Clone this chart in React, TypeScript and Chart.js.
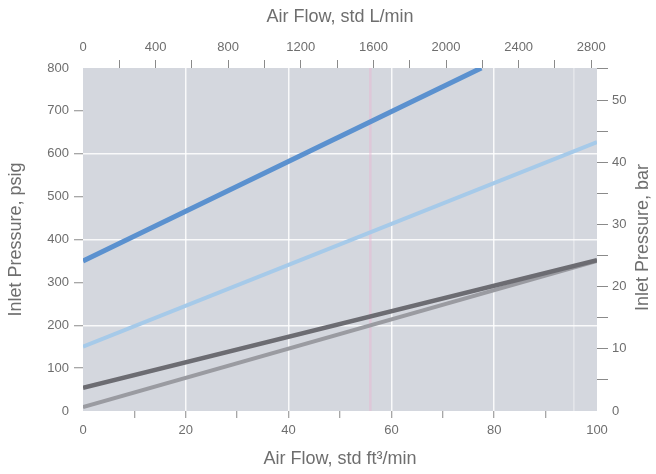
import React, { useEffect, useRef } from "react";
import { Chart, registerables } from "chart.js";

Chart.register(...registerables);

// unit conversions
const PSI_PER_BAR = 14.5038;
const LPM_PER_CFM = 28.3168;

// tick values
const cfmTicks = [0, 10, 20, 30, 40, 50, 60, 70, 80, 90, 100];
const cfmLabelled = [0, 20, 40, 60, 80, 100];
const cfmGrid = [20, 40, 60, 80];
const psiTicks = [0, 100, 200, 300, 400, 500, 600, 700, 800];
const psiGrid = [200, 400, 600];
const lpmTicks = [0, 200, 400, 600, 800, 1000, 1200, 1400, 1600, 1800, 2000, 2200, 2400, 2600, 2800];
const lpmLabelled = [0, 400, 800, 1200, 1600, 2000, 2400, 2800];
const barTicks = [0, 5, 10, 15, 20, 25, 30, 35, 40, 45, 50, 55];
const barLabelled = [0, 10, 20, 30, 40, 50];

// series (air flow std ft3/min -> inlet pressure psig)
const darkBlueFlow = [0, 77.5];
const darkBluePsi = [350, 800];
const lightBlueFlow = [0, 100];
const lightBluePsi = [150, 627];
const darkGrayFlow = [0, 100];
const darkGrayPsi = [54, 352];
const lightGrayFlow = [0, 100];
const lightGrayPsi = [9, 350];

// faint vertical reference lines
const pinkMarkFlow = [55.9];
const faintMarkFlow = [95.5];

const TEXT = "#6e6e6e";
const TICK = "#8a8a8a";
const FONT = "'Liberation Sans', Arial, sans-serif";
const TICK_SIZE = 13;
const TITLE_SIZE = 18;

const pts = (xs: number[], ys: number[]) => xs.map((x, i) => ({ x, y: ys[i] }));
const vline = (x: number) => [
  { x, y: psiTicks[0] },
  { x, y: psiTicks[psiTicks.length - 1] },
];

export default function App() {
  const ref = useRef<HTMLCanvasElement | null>(null);

  useEffect(() => {
    if (!ref.current) return;

    const bgPlugin = {
      id: "plotBg",
      beforeDraw(chart: any) {
        const { ctx, chartArea } = chart;
        ctx.save();
        ctx.fillStyle = "#d4d7de";
        ctx.fillRect(chartArea.left, chartArea.top, chartArea.right - chartArea.left, chartArea.bottom - chartArea.top);
        ctx.restore();
      },
    };

    const rightTitlePlugin = {
      id: "rightTitle",
      afterDraw(chart: any) {
        const { ctx, chartArea } = chart;
        ctx.save();
        ctx.translate(643, (chartArea.top + chartArea.bottom) / 2 - 2);
        ctx.rotate(-Math.PI / 2);
        ctx.fillStyle = TEXT;
        ctx.font = `${TITLE_SIZE}px ${FONT}`;
        ctx.textAlign = "center";
        ctx.textBaseline = "middle";
        ctx.fillText("Inlet Pressure, bar", 0, 0);
        ctx.restore();
      },
    };

    const lineDs = (label: string, data: any[], color: string, width: number) => ({
      label,
      data,
      borderColor: color,
      backgroundColor: color,
      borderWidth: width,
      pointRadius: 0,
      tension: 0,
      fill: false,
      clip: 0,
      xAxisID: "x",
      yAxisID: "y",
    });

    const chart = new Chart(ref.current, {
      type: "line",
      data: {
        datasets: [
          lineDs("dark blue", pts(darkBlueFlow, darkBluePsi), "#5b91cf", 5),
          lineDs("light blue", pts(lightBlueFlow, lightBluePsi), "#a6cae9", 4),
          lineDs("dark gray", pts(darkGrayFlow, darkGrayPsi), "#6c6c72", 4.5),
          lineDs("light gray", pts(lightGrayFlow, lightGrayPsi), "#9a9ba1", 4),
          ...pinkMarkFlow.map((f) => lineDs("pink mark", vline(f), "rgba(232,184,210,0.5)", 2.5)),
          ...faintMarkFlow.map((f) => lineDs("faint mark", vline(f), "rgba(255,255,255,0.4)", 1.5)),
        ],
      },
      options: {
        animation: false,
        responsive: false,
        devicePixelRatio: 1,
        layout: { padding: 0 },
        plugins: { legend: { display: false }, tooltip: { enabled: false } },
        scales: {
          x: {
            type: "linear",
            position: "bottom",
            min: 0,
            max: 100,
            afterBuildTicks: (s: any) => {
              s.ticks = cfmTicks.map((v) => ({ value: v }));
            },
            afterFit: (s: any) => {
              s.height = 63;
            },
            border: { display: false },
            grid: {
              color: (c: any) => (cfmGrid.includes(c.tick?.value) ? "rgba(255,255,255,0.85)" : "rgba(0,0,0,0)"),
              lineWidth: 1.5,
              tickColor: (c: any) => (c.tick?.value === 0 || c.tick?.value === 100 ? "rgba(0,0,0,0)" : TICK),
              tickWidth: 1,
              tickLength: 7,
            },
            ticks: {
              autoSkip: false,
              maxRotation: 0,
              padding: 5,
              color: TEXT,
              font: { family: FONT, size: TICK_SIZE },
              callback: (v: any) => (cfmLabelled.includes(Number(v)) ? String(v) : ""),
            },
            title: {
              display: true,
              text: "Air Flow, std ft³/min",
              color: TEXT,
              font: { family: FONT, size: TITLE_SIZE },
              padding: { top: 0, bottom: 4 },
            },
          },
          x2: {
            type: "linear",
            position: "top",
            min: 0,
            max: 100 * LPM_PER_CFM,
            afterBuildTicks: (s: any) => {
              s.ticks = lpmTicks.map((v) => ({ value: v }));
            },
            afterFit: (s: any) => {
              s.height = 68;
            },
            border: { display: false },
            grid: {
              drawOnChartArea: false,
              tickColor: (c: any) => (c.tick?.value === 0 ? "rgba(0,0,0,0)" : TICK),
              tickWidth: 1,
              tickLength: 8,
            },
            ticks: {
              autoSkip: false,
              maxRotation: 0,
              padding: 5,
              color: TEXT,
              font: { family: FONT, size: TICK_SIZE },
              callback: (v: any) => (lpmLabelled.includes(Number(v)) ? String(v) : ""),
            },
            title: {
              display: true,
              text: "Air Flow, std L/min",
              color: TEXT,
              font: { family: FONT, size: TITLE_SIZE },
              padding: { top: 6, bottom: 0 },
            },
          },
          y: {
            type: "linear",
            position: "left",
            min: 0,
            max: 800,
            afterBuildTicks: (s: any) => {
              s.ticks = psiTicks.map((v) => ({ value: v }));
            },
            afterFit: (s: any) => {
              s.width = 83;
            },
            border: { display: false },
            grid: {
              color: (c: any) => (psiGrid.includes(c.tick?.value) ? "rgba(255,255,255,0.85)" : "rgba(0,0,0,0)"),
              lineWidth: 1.5,
              tickColor: (c: any) => (c.tick?.value === 0 || c.tick?.value === 800 ? "rgba(0,0,0,0)" : TICK),
              tickWidth: 1,
              tickLength: 9,
            },
            ticks: {
              autoSkip: false,
              padding: 5,
              color: TEXT,
              font: { family: FONT, size: TICK_SIZE },
              callback: (v: any) => String(v),
            },
            title: {
              display: true,
              text: "Inlet Pressure, psig",
              color: TEXT,
              font: { family: FONT, size: TITLE_SIZE },
              padding: { top: 5, bottom: 0 },
            },
          },
          y2: {
            type: "linear",
            position: "right",
            min: 0,
            max: 800 / PSI_PER_BAR,
            afterBuildTicks: (s: any) => {
              s.ticks = barTicks.map((v) => ({ value: v }));
            },
            afterFit: (s: any) => {
              s.width = 59;
            },
            border: { display: false },
            grid: {
              drawOnChartArea: false,
              tickColor: (c: any) => (c.tick?.value === 0 ? "rgba(0,0,0,0)" : TICK),
              tickWidth: 1,
              tickLength: 11,
            },
            ticks: {
              autoSkip: false,
              padding: 4,
              color: TEXT,
              font: { family: FONT, size: TICK_SIZE },
              callback: (v: any) => (barLabelled.includes(Number(v)) ? String(v) : ""),
            },
          },
        },
      },
      plugins: [bgPlugin, rightTitlePlugin],
    } as any);

    return () => chart.destroy();
  }, []);

  return (
    <div style={{ position: "absolute", left: 0, top: 0, width: 656, height: 474, background: "#ffffff" }}>
      <canvas ref={ref} width={656} height={474} />
    </div>
  );
}
